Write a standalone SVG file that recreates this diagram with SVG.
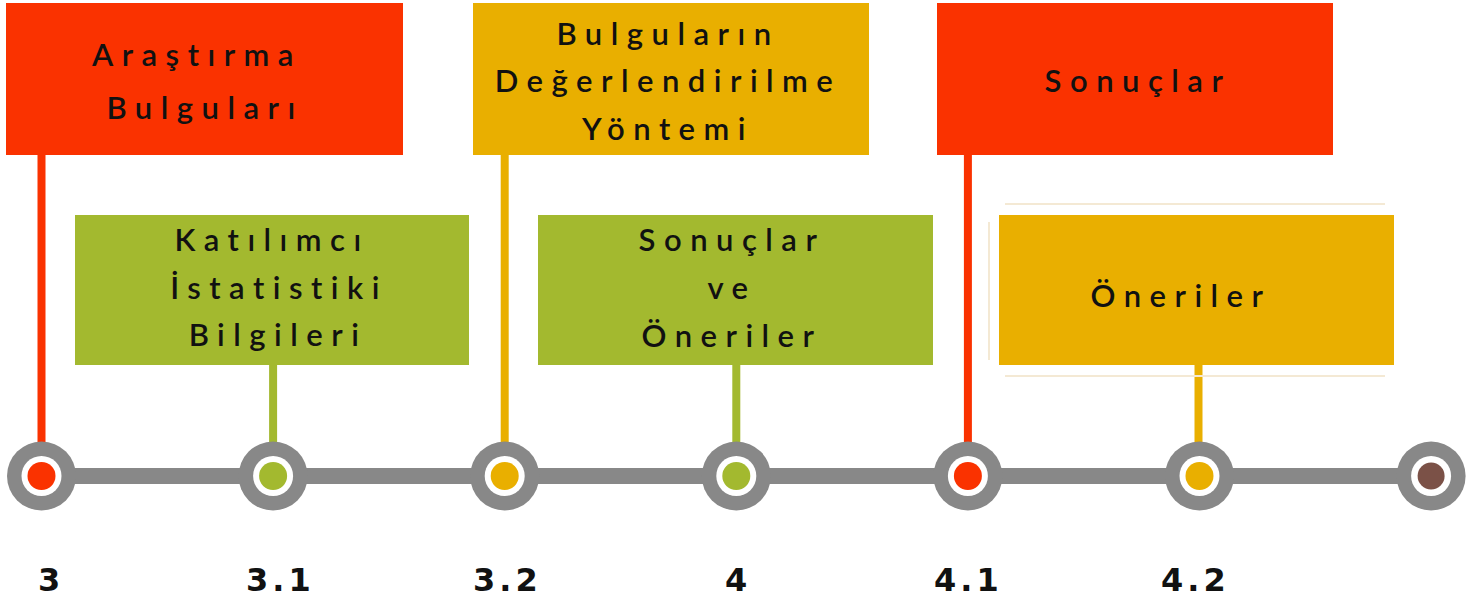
<svg xmlns="http://www.w3.org/2000/svg" width="1484" height="600" viewBox="0 0 1484 600">
  <style>
    .red { fill: #fa3200; }
    .yel { fill: #e9af00; }
    .grn { fill: #a3b92f; }
    .t { font-family: Lato, "Open Sans", "DejaVu Sans", sans-serif; font-weight: 600; font-size: 31px; fill: #111; letter-spacing: 8.5px; text-anchor: middle; }
    .num { font-family: "DejaVu Sans", "Liberation Sans", sans-serif; font-weight: bold; font-size: 32px; fill: #111; letter-spacing: 4px; }
    .ring { fill: #888888; }
    .hole { fill: #ffffff; }
    .shadow { stroke: #f4e9d4; stroke-width: 2; fill: none; }
  </style>

  <!-- timeline bar -->
  <rect x="41" y="468" width="1390" height="16" class="ring"/>

  <!-- connectors -->
  <g id="connectors" stroke-width="8" fill="none">
    <line x1="41.5" y1="150" x2="41.5" y2="476" stroke="#fa3200"/>
    <line x1="273.1" y1="360" x2="273.1" y2="476" stroke="#a3b92f"/>
    <line x1="504.7" y1="150" x2="504.7" y2="476" stroke="#e9af00"/>
    <line x1="736.3" y1="360" x2="736.3" y2="476" stroke="#a3b92f"/>
    <line x1="967.9" y1="150" x2="967.9" y2="476" stroke="#fa3200"/>
    <line x1="1198.5" y1="360" x2="1198.5" y2="476" stroke="#e9af00"/>
  </g>

  <!-- timeline points -->
  <g id="p3">
    <circle cx="41.5" cy="476" r="34.5" class="ring"/>
    <circle cx="41.5" cy="476" r="20" class="hole"/>
    <circle cx="41.5" cy="476" r="14" class="red"/>
    <text x="38" y="591" class="num">3</text>
  </g>
  <g id="p31">
    <circle cx="273.1" cy="476" r="34.5" class="ring"/>
    <circle cx="273.1" cy="476" r="20" class="hole"/>
    <circle cx="273.1" cy="476" r="14" class="grn"/>
    <text x="246" y="591" class="num">3.1</text>
  </g>
  <g id="p32">
    <circle cx="504.7" cy="476" r="34.5" class="ring"/>
    <circle cx="504.7" cy="476" r="20" class="hole"/>
    <circle cx="504.7" cy="476" r="14" class="yel"/>
    <text x="473" y="591" class="num">3.2</text>
  </g>
  <g id="p4">
    <circle cx="736.3" cy="476" r="34.5" class="ring"/>
    <circle cx="736.3" cy="476" r="20" class="hole"/>
    <circle cx="736.3" cy="476" r="14" class="grn"/>
    <text x="725" y="591" class="num">4</text>
  </g>
  <g id="p41">
    <circle cx="967.9" cy="476" r="34.5" class="ring"/>
    <circle cx="967.9" cy="476" r="20" class="hole"/>
    <circle cx="967.9" cy="476" r="14" class="red"/>
    <text x="934" y="591" class="num">4.1</text>
  </g>
  <g id="p42">
    <circle cx="1199.5" cy="476" r="34.5" class="ring"/>
    <circle cx="1199.5" cy="476" r="20" class="hole"/>
    <circle cx="1199.5" cy="476" r="14" class="yel"/>
    <text x="1161" y="591" class="num">4.2</text>
  </g>
  <g id="pend">
    <circle cx="1431.1" cy="476" r="34.5" class="ring"/>
    <circle cx="1431.1" cy="476" r="20" class="hole"/>
    <circle cx="1431.1" cy="476" r="13.5" fill="#7b5147"/>
  </g>

  <!-- boxes -->
  <g id="box-arastirma">
    <rect x="6" y="3" width="397" height="152" class="red"/>
    <text x="197" y="66" class="t">Araştırma</text>
    <text x="205" y="119" class="t">Bulguları</text>
  </g>
  <g id="box-katilimci">
    <rect x="75" y="215" width="394" height="150" class="grn"/>
    <text x="272" y="251" class="t">Katılımcı</text>
    <text x="279" y="299" class="t">İstatistiki</text>
    <text x="278" y="346" class="t">Bilgileri</text>
  </g>
  <g id="box-degerlendirme">
    <rect x="473" y="3" width="396" height="152" class="yel"/>
    <text x="668" y="45" class="t">Bulguların</text>
    <text x="668" y="92" class="t">Değerlendirilme</text>
    <text x="668" y="140" class="t">Yöntemi</text>
  </g>
  <g id="box-sonuclar-oneriler">
    <rect x="538" y="215" width="395" height="150" class="grn"/>
    <text x="732" y="251" class="t">Sonuçlar</text>
    <text x="732" y="299" class="t">ve</text>
    <text x="732" y="347" class="t">Öneriler</text>
  </g>
  <g id="box-sonuclar">
    <rect x="937" y="3" width="396" height="152" class="red"/>
    <text x="1138" y="92" class="t">Sonuçlar</text>
  </g>
  <g id="box-oneriler">
    <line x1="1005" y1="204" x2="1385" y2="204" class="shadow"/>
    <line x1="1005" y1="376" x2="1385" y2="376" class="shadow"/>
    <line x1="989" y1="222" x2="989" y2="360" class="shadow"/>
    <rect x="999" y="215" width="395" height="150" class="yel"/>
    <text x="1181" y="307" class="t">Öneriler</text>
  </g>
</svg>
